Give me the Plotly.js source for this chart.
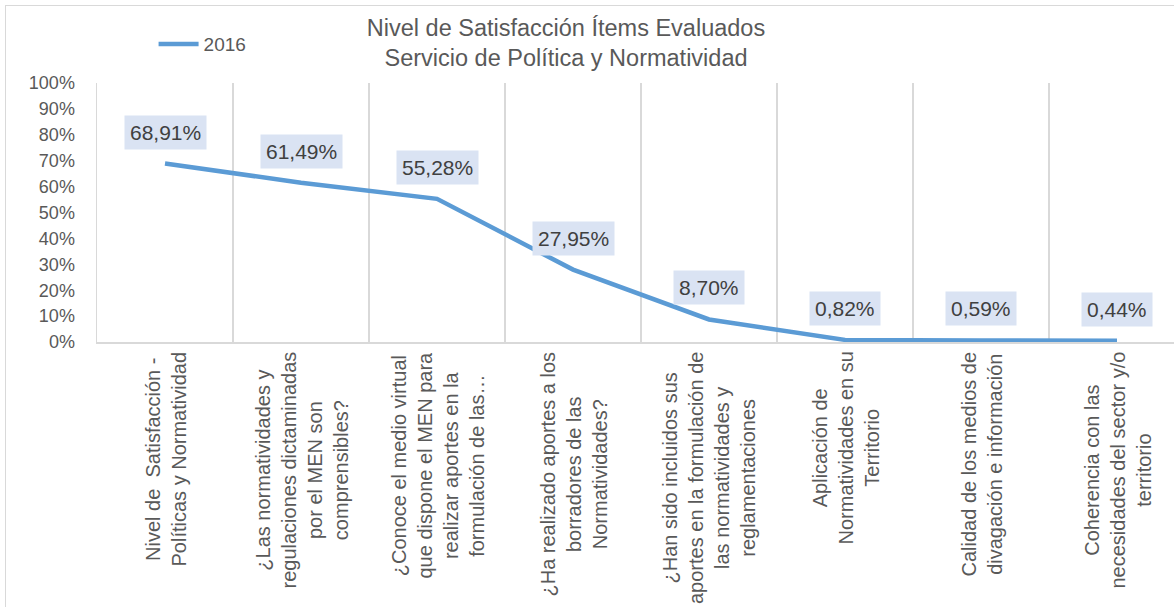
<!DOCTYPE html>
<html>
<head>
<meta charset="utf-8">
<script src="https://cdn.plot.ly/plotly-3.0.1.min.js"></script>
<style>
html,body{margin:0;padding:0;background:#fff;overflow:hidden;width:1174px;height:607px;}
#wrap{position:absolute;left:0;top:0;width:1174px;height:607px;overflow:hidden;}
#frame{position:absolute;left:5px;top:5px;width:1300px;height:700px;border:1.5px solid #d9d9d9;box-sizing:border-box;pointer-events:none;}
#chart{position:absolute;left:0;top:0;}
</style>
</head>
<body>
<div id="wrap">
<div id="chart"></div>
<div id="frame"></div>
</div>
<script>
const categories = [
  "Nivel de  Satisfacción -<br>Políticas y Normatividad",
  "¿Las normatividades y<br>regulaciones dictaminadas<br>por el MEN son<br>comprensibles?",
  "¿Conoce el medio virtual<br>que dispone el MEN para<br>realizar aportes en la<br>formulación de las…",
  "¿Ha realizado aportes a los<br>borradores de las<br>Normatividades?",
  "¿Han sido incluidos sus<br>aportes en la formulación de<br>las normatividades y<br>reglamentaciones",
  "Aplicación de<br>Normatividades en su<br>Territorio",
  "Calidad de los medios de<br>divagación e información",
  "Coherencia con las<br>necesidades del sector y/o<br>territorio"
];
const values2016 = [0.6891, 0.6149, 0.5528, 0.2795, 0.0870, 0.0082, 0.0059, 0.0044];
const seriesName = "2016";
const titleLines = ["Nivel de Satisfacción Ítems Evaluados", "Servicio de Política y Normatividad"];
const yTickVals = [0, 0.1, 0.2, 0.3, 0.4, 0.5, 0.6, 0.7, 0.8, 0.9, 1.0];
const yTickText = ["0%", "10%", "20%", "30%", "40%", "50%", "60%", "70%", "80%", "90%", "100%"];

const FONT = "'Liberation Sans', Arial, sans-serif";
const GREY = "#595959";

const xIdx = categories.map((c, i) => i);

const trace = {
  x: xIdx,
  y: values2016,
  type: "scatter",
  mode: "lines",
  name: seriesName,
  line: {color: "#5b9bd5", width: 4.5, shape: "linear"},
  hoverinfo: "skip"
};

const fmt = v => (v * 100).toFixed(2).replace(".", ",") + "%";

const annotations = [];
values2016.forEach((v, i) => {
  annotations.push({
    x: i, y: v, xref: "x", yref: "y",
    text: fmt(v), showarrow: false,
    xanchor: "center", yanchor: "bottom", yshift: 14,
    bgcolor: "#dae3f3", borderpad: 5,
    font: {family: FONT, size: 21, color: "#404040"}
  });
});
categories.forEach((c, i) => {
  annotations.push({
    x: i, y: 0, xref: "x", yref: "paper",
    text: c, showarrow: false, textangle: -90,
    xanchor: "center", yanchor: "top", yshift: -8,
    align: "center",
    font: {family: FONT, size: 20, color: GREY}
  });
});

const layout = {
  width: 1190, height: 607,
  margin: {l: 97, r: 5, t: 83, b: 265, pad: 0},
  paper_bgcolor: "#ffffff", plot_bgcolor: "#ffffff",
  font: {family: FONT, color: GREY},
  title: {
    text: titleLines.join("<br>"),
    x: 566 / 1190, xref: "container", xanchor: "center",
    y: 1 - 35.5 / 607, yref: "container", yanchor: "top",
    font: {family: FONT, size: 23.5, color: GREY}
  },
  showlegend: true,
  legend: {
    orientation: "h", x: 0.052, y: 1.15, xanchor: "left", yanchor: "middle",
    font: {family: FONT, size: 19, color: GREY},
    bgcolor: "rgba(0,0,0,0)", itemwidth: 40
  },
  xaxis: {
    type: "linear", range: [-0.5, 7.5],
    tickvals: xIdx.map(i => i - 0.5), showticklabels: false,
    showgrid: true, gridcolor: "#d9d9d9", gridwidth: 1.5,
    showline: true, linecolor: "#d9d9d9", linewidth: 1.5,
    zeroline: false, ticks: "", fixedrange: true
  },
  yaxis: {
    range: [0, 1], tickvals: yTickVals, ticktext: yTickText,
    showgrid: false, zeroline: false,
    showline: true, linecolor: "#d9d9d9", linewidth: 1.5,
    ticks: "", ticklabelstandoff: 17,
    tickfont: {family: FONT, size: 18, color: GREY},
    fixedrange: true
  },
  annotations: annotations
};

Plotly.newPlot("chart", [trace], layout, {displayModeBar: false, staticPlot: true});
</script>
</body>
</html>
